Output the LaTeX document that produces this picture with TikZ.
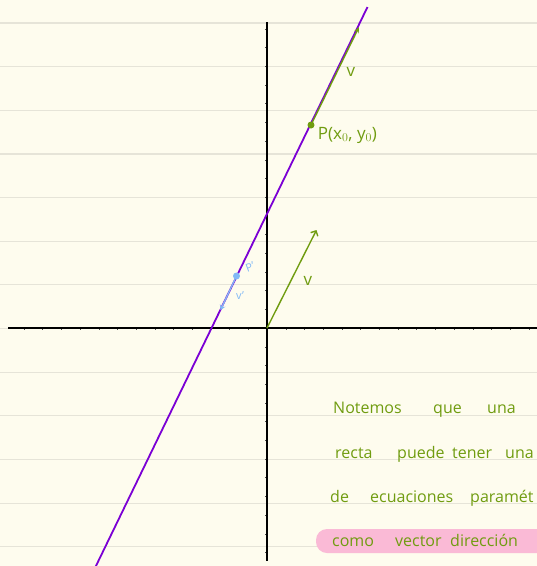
\documentclass[tikz,border=0pt]{standalone}
\usepackage{fontspec}
\setmainfont{Open Sans}
\usetikzlibrary{arrows.meta, positioning}
\definecolor{paper}{RGB}{254, 252, 238}
\definecolor{ruled}{RGB}{230, 228, 216}
\definecolor{rectapurple}{RGB}{123, 0, 212}
\definecolor{vecgreen}{RGB}{112, 156, 16}
\definecolor{vecblue}{RGB}{130, 185, 245}
\definecolor{marker}{RGB}{250, 186, 214}

\begin{document}
\begin{tikzpicture}[
        x=1pt, y=-1pt,
        ruling/.style={ruled, line width=1.2pt},
        axis/.style={black, line width=2pt},
        tick/.style={black!70, line width=0.4pt},
        recta/.style={rectapurple, line width=1.8pt},
        vec/.style={-{Straight Barb[length=4pt, width=8pt]}, vecgreen, line width=1.4pt},
        vectip/.style={-{Stealth[length=6pt, width=5pt]}, vecgreen, line width=1.4pt},
        vecb/.style={-{Stealth[length=5pt, width=6pt]}, vecblue, line width=1.3pt},
        dot/.style={circle, inner sep=0pt, minimum size=7pt},
        lbl/.style={text=vecgreen, font=\fontsize{17}{17}\selectfont, inner sep=0pt},
        bluelbl/.style={text=vecblue, font=\fontsize{11}{11}\selectfont, inner sep=0pt},
        note/.style={text=vecgreen, font=\fontsize{16}{16}\selectfont, anchor=base west, inner sep=0pt}
    ]
        % Paper
        \fill[paper] (0,0) rectangle (537,566);
        \useasboundingbox (0,0) rectangle (537,566);
        \clip (0,0) rectangle (537,566);
        \foreach \k in {-7,...,5}
            \draw[ruling] (0,328.5+43.65*\k) -- (537,328.5+43.65*\k);
        % Highlight
        \fill[marker, rounded corners=11pt] (316,529) rectangle (548,553);
        % Axes
        \coordinate (O) at (267,328);
        \coordinate (XL) at (8,328);
        \coordinate (XR) at (537,328);
        \coordinate (YT) at (267,22);
        \coordinate (YB) at (267,561);
        \foreach \k in {-13,...,14}
            \draw[tick] (267+18.7*\k,328) -- ++(0,2);
        \foreach \k in {-16,...,12}
            \draw[tick] (267,328+18.7*\k) -- ++(-2,0);
        \draw[axis] (XL) -- (XR);
        \draw[axis] (YT) -- (YB);
        % Line
        \coordinate (L1) at (94,570);
        \coordinate (L2) at (367.5,7);
        \draw[recta] (L1) -- (L2);
        % Vector v at origin
        \coordinate (V) at (316.5,230);
        \draw[vec] (O) -- (V);
        \node[lbl] (v1) at (308,281) {v};
        % Point P and vector v
        \node[dot, fill=vecgreen] (P) at (311,125) {};
        \coordinate (PV) at (359,27);
        \draw[vectip] (P.center) -- (PV);
        \node[lbl] (v2) at (351,72) {v};
        \node[lbl, anchor=west, right=3pt of P, yshift=-10pt] (Plbl) {P(x$_0$, y$_0$)};
        % Point P' and vector v'
        \node[dot, fill=vecblue] (Pb) at (236.5,276) {};
        \coordinate (PbV) at (220.5,310);
        \draw[vecb] (Pb.center) -- (PbV);
        \node[bluelbl, rotate=20] (pb) at (250,267) {P'};
        \node[bluelbl] (vb) at (240,296) {v'};
        % Notes
        \foreach \w/\x/\y [count=\i] in {Notemos/333/413, que/433/413, una/487/413,
                recta/335/458, puede/397/458, tener/452/458, una/505/458,
                de/330/502, ecuaciones/370/502, paramét/470/502,
                como/332/546, vector/395/546, dirección/450/546}
            \node[note] (w\i) at (\x,\y) {\w};
    \end{tikzpicture}
\end{document}
